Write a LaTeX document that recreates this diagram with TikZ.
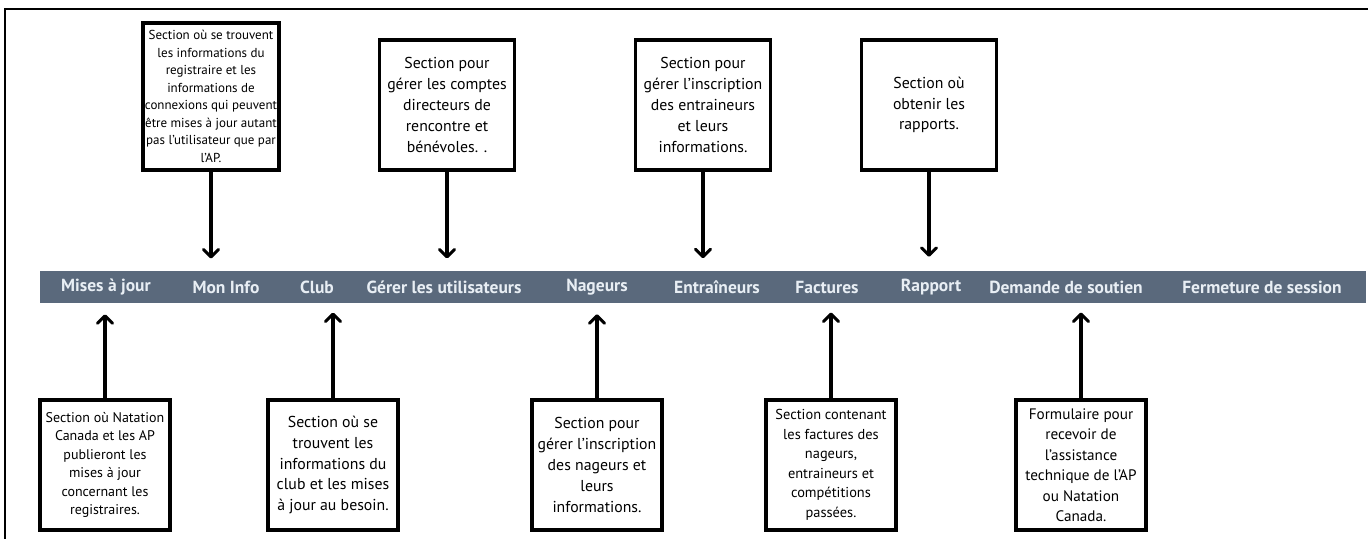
\documentclass[tikz,border=0pt]{standalone}
\usepackage{fontspec}
\setmainfont{PT Sans}
\usepackage{tikz}
\usetikzlibrary{arrows.meta,positioning,calc}

\definecolor{barblue}{HTML}{5A697C}
\definecolor{menutext}{HTML}{E8EEF4}

\begin{document}
\begin{tikzpicture}[x=1pt, y=-1pt,
    note/.style={draw, line width=3.2pt, align=center, inner sep=2pt,
        font=\fontsize{15.8}{20.8}\selectfont},
    topnote/.style={note, minimum width=135pt, minimum height=130pt},
    botnote/.style={note, minimum width=130pt, minimum height=130pt},
    menu/.style={text=menutext, font=\fontsize{17.5}{19}\selectfont\bfseries, inner sep=0pt},
    arr/.style={-{Straight Barb[length=7.5pt, width=15pt, line width=3pt, round]}, line width=3.8pt}
]
\useasboundingbox (0,0) rectangle (1368,539);
% cadre
\draw[line width=2pt] (1368,9) -- (5,9) -- (5,539);

% barre de menu
\fill[barblue] (40,271) rectangle (1366,303);
\node[menu] (majour) at (106,287) {Mises à jour};
\node[menu] (moninfo) at (226,287) {Mon Info};
\node[menu] (club) at (317,287) {Club};
\node[menu] (gerer) at (444,287) {Gérer les utilisateurs};
\node[menu] (nageurs) at (597,287) {Nageurs};
\node[menu] (entr) at (717,287) {Entraîneurs};
\node[menu] (fact) at (827,287) {Factures};
\node[menu] (rapport) at (931,287) {Rapport};
\node[menu] (soutien) at (1066,287) {Demande de soutien};
\node[menu] (fermer) at (1262,287) {Fermeture de session};

% sections du haut
\node[topnote, minimum height=147pt, font=\fontsize{13}{17.5}\selectfont] (tinfo) at (211,96.5)
    {Section où se trouvent\\les informations du\\registraire et les\\informations de\\connexions qui peuvent\\être mises à jour autant\\pas l'utilisateur que par\\l'AP.};
\node[topnote] (tgerer) at (447,105)
    {Section pour\\gérer les comptes\\directeurs de\\rencontre et\\bénévoles. .};
\node[topnote] (tentr) at (703,105)
    {Section pour\\gérer l'inscription\\des entraineurs\\et leurs\\informations.};
\node[topnote] (trapport) at (929,105)
    {Section où\\obtenir les\\rapports.};

% sections du bas
\node[botnote, font=\fontsize{14}{18.5}\selectfont] (bmaj) at (105,465)
    {Section où Natation\\Canada et les AP\\publieront les\\mises à jour\\concernant les\\registraires.};
\node[botnote] (bclub) at (333,465)
    {Section où se\\trouvent les\\informations du\\club et les mises\\à jour au besoin.};
\node[botnote] (bnag) at (597,465)
    {Section pour\\gérer l'inscription\\des nageurs et\\leurs\\informations.};
\node[botnote, font=\fontsize{14.4}{19.5}\selectfont] (bfact) at (831,465)
    {Section contenant\\les factures des\\nageurs,\\entraineurs et\\compétitions\\passées.};
\node[botnote, font=\fontsize{15.2}{20.5}\selectfont] (bsout) at (1081,465)
    {Formulaire pour\\recevoir de\\l'assistance\\technique de l'AP\\ou Natation\\Canada.};

% fleches
\draw[arr, shorten >=22pt] (tinfo.south) -- (tinfo.south |- moninfo.north);
\draw[arr, shorten >=22pt] (tgerer.south) -- (tgerer.south |- gerer.north);
\draw[arr, shorten >=22pt] (tentr.south) -- (tentr.south |- entr.north);
\draw[arr, shorten >=22pt] (trapport.south) -- (trapport.south |- rapport.north);
\draw[arr, shorten >=19pt] (bmaj.north) -- (bmaj.north |- majour.south);
\draw[arr, shorten >=19pt] (bclub.north) -- (bclub.north |- club.south);
\draw[arr, shorten >=19pt] (bnag.north) -- (bnag.north |- nageurs.south);
\draw[arr, shorten >=19pt] (bfact.north) -- (bfact.north |- fact.south);
\draw[arr, shorten >=19pt] (bsout.north) -- (bsout.north |- soutien.south);
\end{tikzpicture}
\end{document}
